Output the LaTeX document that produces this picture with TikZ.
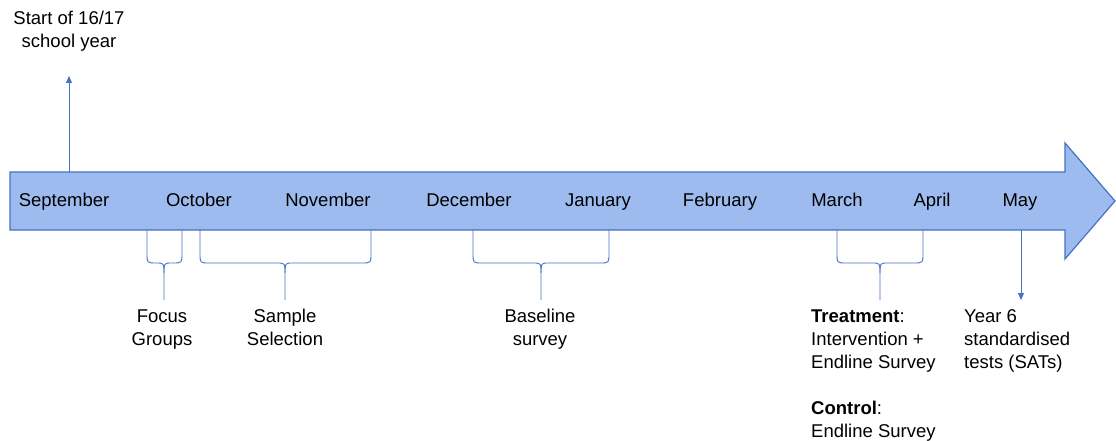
\documentclass[tikz,border=0pt]{standalone}
\usepackage{fontspec}
\setmainfont{Liberation Sans}
\usetikzlibrary{arrows.meta}
\definecolor{barfill}{RGB}{157,187,238}
\definecolor{barline}{RGB}{68,114,196}
\newcommand\tlbrace[3]{%
  \draw[brc] (#1,230) -- (#1,253) .. controls (#1,263) .. ({#1+9},263) -- ({#3-8},263) .. controls (#3,263) .. (#3,273) -- (#3,300);
  \draw[brc] (#2,230) -- (#2,253) .. controls (#2,263) .. ({#2-9},263) -- ({#3+8},263) .. controls (#3,263) .. (#3,273);
}
\begin{document}
\begin{tikzpicture}[x=1pt,y=-1pt,
  mon/.style={font=\fontsize{18.5}{23}\selectfont, inner sep=0pt, anchor=base},
  lbl/.style={font=\fontsize{18.5}{23}\selectfont, inner sep=0pt, align=center, anchor=north},
  lbll/.style={font=\fontsize{18.5}{23}\selectfont, inner sep=0pt, align=left, anchor=north west},
  brc/.style={draw=barline, line width=0.9pt},
  arr/.style={draw=barline, line width=0.9pt, -{Triangle[length=7pt,width=6pt]}}]
\useasboundingbox (0,0) rectangle (1116,441);
% big arrow
\draw[fill=barfill, draw=barline, line width=1.2pt] (10,172) -- (1065,172) -- (1065,143) -- (1115,201) -- (1065,259) -- (1065,230) -- (10,230) -- cycle;
% months
\node[mon] (sep) at (64,206.5) {September};
\node[mon] (oct) at (199,206.5) {October};
\node[mon] (nov) at (328,206.5) {November};
\node[mon] (dec) at (469,206.5) {December};
\node[mon] (jan) at (598,206.5) {January};
\node[mon] (feb) at (720,206.5) {February};
\node[mon] (mar) at (837,206.5) {March};
\node[mon] (apr) at (932,206.5) {April};
\node[mon] (may) at (1020,206.5) {May};
% start arrow
\node[lbl] (start) at (69,8.4) {\strut Start of 16/17\\school year\strut};
\coordinate (s0) at (69,172);
\coordinate (s1) at (69,76);
\draw[arr] (s0) -- (s1);
% may arrow
\coordinate (m0) at (1021,230);
\coordinate (m1) at (1021,300);
\draw[arr] (m0) -- (m1);
% braces
\tlbrace{147}{182}{164}
\tlbrace{200}{371}{285}
\tlbrace{473}{609}{541}
\tlbrace{837}{923}{880}
% labels
\node[lbl] (focus) at (162,306.4) {\strut Focus\\Groups\strut};
\node[lbl] (sample) at (285,306.4) {\strut Sample\\Selection\strut};
\node[lbl] (base) at (540,306.4) {\strut Baseline\\survey\strut};
\node[lbll] (treat) at (811,306.4) {\strut\textbf{Treatment}:\\Intervention +\\Endline Survey\\[23pt]\textbf{Control}:\\Endline Survey\strut};
\node[lbll] (sats) at (964,306.4) {\strut Year 6\\standardised\\tests (SATs)\strut};
\end{tikzpicture}
\end{document}
